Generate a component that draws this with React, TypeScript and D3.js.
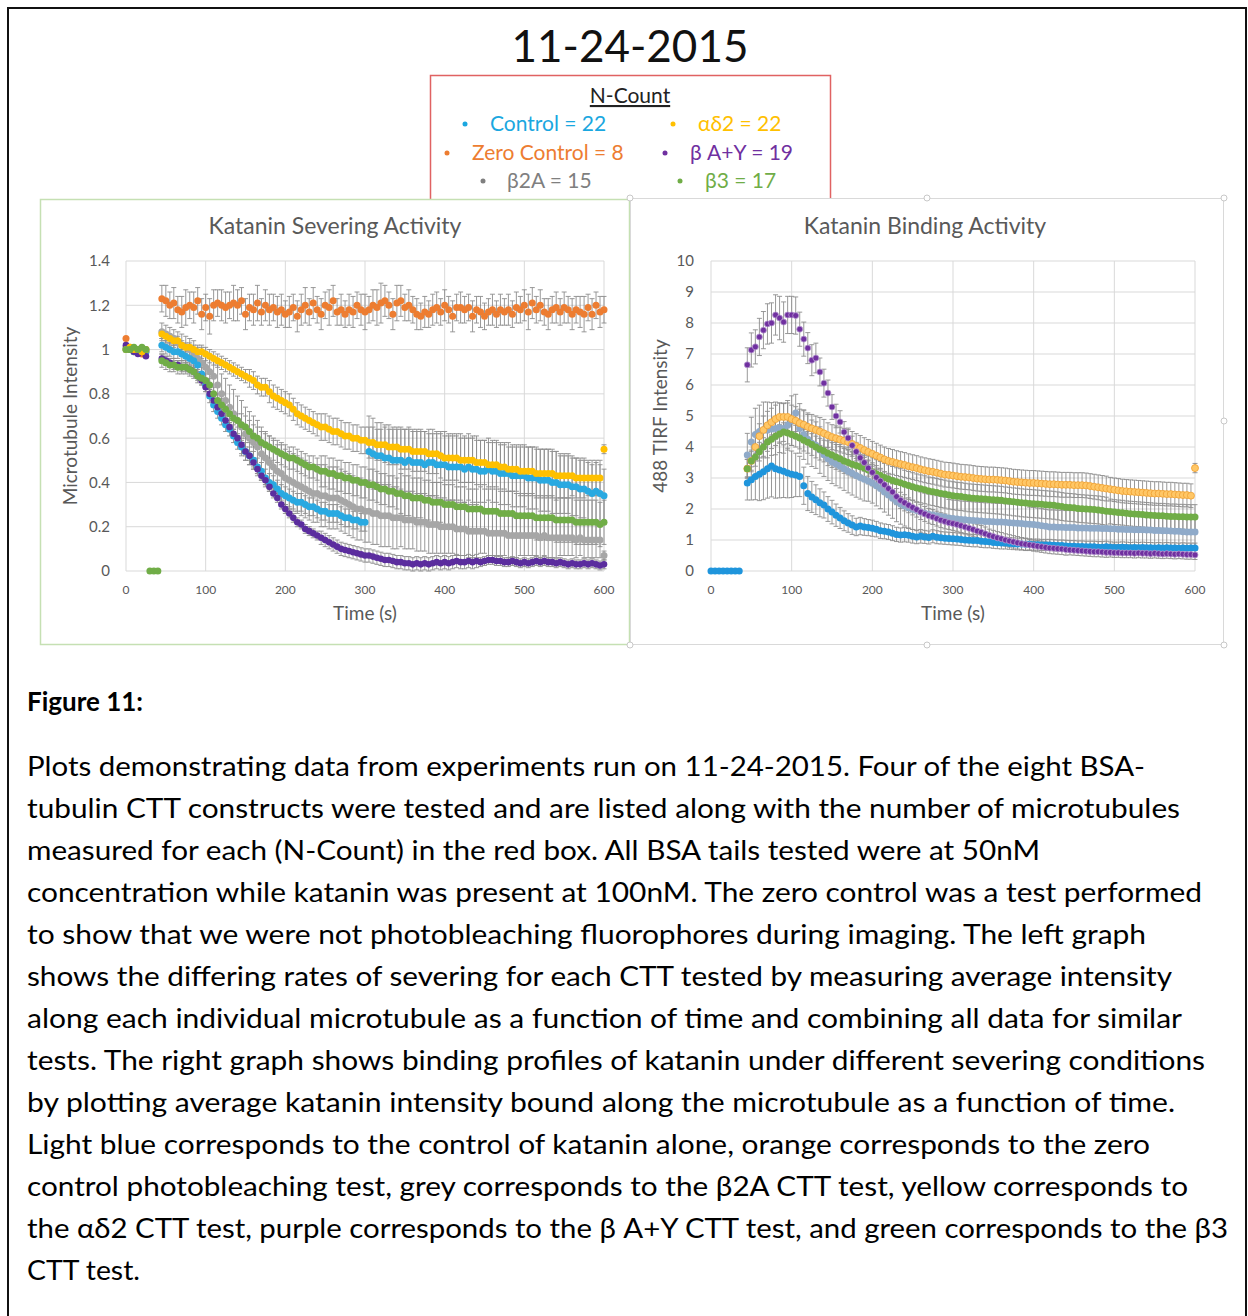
import React, { useEffect, useRef } from 'react';
import * as d3 from 'd3';

// sampling times (s) of the main recording
const TIME = [
  45, 50, 55, 60, 65, 70, 75, 80, 85, 90,
  95, 100, 105, 110, 115, 120, 125, 130, 135, 140,
  145, 150, 155, 160, 165, 170, 175, 180, 185, 190,
  195, 200, 205, 210, 215, 220, 225, 230, 235, 240,
  245, 250, 255, 260, 265, 270, 275, 280, 285, 290,
  295, 300, 305, 310, 315, 320, 325, 330, 335, 340,
  345, 350, 355, 360, 365, 370, 375, 380, 385, 390,
  395, 400, 405, 410, 415, 420, 425, 430, 435, 440,
  445, 450, 455, 460, 465, 470, 475, 480, 485, 490,
  495, 500, 505, 510, 515, 520, 525, 530, 535, 540,
  545, 550, 555, 560, 565, 570, 575, 580, 585, 590,
  595, 600,
];
const LEFT_PRE_TIME = [0, 5, 10, 15, 20, 25];
const LEFT_GAP_TIME = [30, 35, 40];
const RIGHT_PRE_TIME = [0, 5, 10, 15, 20, 25, 30, 35];

const X_TICKS = [0, 100, 200, 300, 400, 500, 600];
const LEFT_Y_TICKS = [0, 0.2, 0.4, 0.6, 0.8, 1, 1.2, 1.4];
const RIGHT_Y_TICKS = [0, 1, 2, 3, 4, 5, 6, 7, 8, 9, 10];

// ---- Katanin Severing Activity (normalised microtubule intensity) ----
const LEFT_PRE_ZERO = [1.05, 1.01, 0.99, 1.0, 0.98, 0.99];
const LEFT_PRE_CTRL = [1.0, 1.0, 0.99, 1.0, 1.0, 0.99];
const LEFT_PRE_B2A = [1.01, 1.0, 1.0, 0.99, 1.0, 1.0];
const LEFT_PRE_AD2 = [1.0, 1.01, 1.0, 1.0, 0.99, 1.0];
const LEFT_PRE_BAY = [1.02, 1.0, 0.99, 0.98, 0.99, 0.97];
const LEFT_PRE_B3 = [1.0, 1.0, 1.01, 1.0, 1.01, 1.0];
const LEFT_GAP_B3 = [0, 0, 0];

const LEFT_ZERO = [
  1.23, 1.22, 1.20, 1.21, 1.18, 1.17, 1.19, 1.20, 1.19, 1.22,
  1.16, 1.19, 1.15, 1.20, 1.21, 1.20, 1.19, 1.20, 1.21, 1.20,
  1.22, 1.16, 1.19, 1.18, 1.21, 1.17, 1.20, 1.18, 1.19, 1.17,
  1.18, 1.16, 1.17, 1.19, 1.15, 1.18, 1.20, 1.17, 1.21, 1.18,
  1.16, 1.20, 1.19, 1.22, 1.17, 1.18, 1.16, 1.18, 1.17, 1.20,
  1.18, 1.17, 1.18, 1.20, 1.19, 1.21, 1.22, 1.20, 1.16, 1.21,
  1.22, 1.19, 1.20, 1.18, 1.16, 1.15, 1.17, 1.16, 1.18, 1.19,
  1.17, 1.20, 1.18, 1.15, 1.19, 1.19, 1.18, 1.19, 1.15, 1.18,
  1.17, 1.15, 1.17, 1.18, 1.16, 1.18, 1.17, 1.18, 1.16, 1.19,
  1.18, 1.20, 1.17, 1.21, 1.18, 1.20, 1.17, 1.16, 1.18, 1.19,
  1.17, 1.19, 1.18, 1.16, 1.18, 1.17, 1.16, 1.19, 1.16, 1.20,
  1.17, 1.18,
];
const LEFT_ZERO_ERR = [
  0.06, 0.07, 0.06, 0.07, 0.06, 0.07, 0.08, 0.06, 0.07, 0.06,
  0.07, 0.06, 0.08, 0.07, 0.06, 0.07, 0.07, 0.06, 0.08, 0.07,
  0.06, 0.07, 0.06, 0.07, 0.08, 0.06, 0.07, 0.07, 0.06, 0.07,
  0.07, 0.06, 0.07, 0.06, 0.07, 0.07, 0.08, 0.06, 0.07, 0.06,
  0.07, 0.06, 0.08, 0.07, 0.06, 0.07, 0.06, 0.07, 0.07, 0.06,
  0.07, 0.08, 0.06, 0.07, 0.08, 0.09, 0.07, 0.06, 0.07, 0.08,
  0.07, 0.06, 0.07, 0.06, 0.07, 0.06, 0.07, 0.06, 0.07, 0.07,
  0.06, 0.07, 0.06, 0.07, 0.06, 0.07, 0.06, 0.06, 0.07, 0.06,
  0.07, 0.06, 0.06, 0.07, 0.06, 0.07, 0.06, 0.07, 0.06, 0.07,
  0.06, 0.07, 0.08, 0.07, 0.06, 0.07, 0.06, 0.07, 0.06, 0.07,
  0.06, 0.07, 0.06, 0.07, 0.06, 0.07, 0.08, 0.06, 0.07, 0.06,
  0.07, 0.06,
];

const LEFT_AD2 = [
  1.07, 1.06, 1.05, 1.04, 1.04, 1.02, 1.01, 1.01, 1.00, 0.99,
  0.99, 0.98, 0.97, 0.96, 0.95, 0.94, 0.93, 0.92, 0.91, 0.90,
  0.89, 0.88, 0.87, 0.86, 0.84, 0.83, 0.83, 0.81, 0.79, 0.78,
  0.77, 0.76, 0.75, 0.73, 0.71, 0.70, 0.69, 0.68, 0.67, 0.66,
  0.65, 0.65, 0.64, 0.63, 0.63, 0.62, 0.61, 0.61, 0.60, 0.60,
  0.59, 0.59, 0.58, 0.58, 0.57, 0.57, 0.57, 0.56, 0.56, 0.56,
  0.55, 0.55, 0.55, 0.54, 0.54, 0.54, 0.54, 0.53, 0.53, 0.53,
  0.52, 0.51, 0.51, 0.51, 0.51, 0.50, 0.50, 0.50, 0.50, 0.49,
  0.49, 0.49, 0.48, 0.48, 0.48, 0.47, 0.47, 0.46, 0.46, 0.46,
  0.45, 0.45, 0.45, 0.45, 0.44, 0.44, 0.44, 0.44, 0.44, 0.43,
  0.43, 0.43, 0.43, 0.43, 0.42, 0.42, 0.42, 0.42, 0.42, 0.42,
  0.42, 0.55,
];
const LEFT_AD2_ERR = [
  0.02, 0.02, 0.02, 0.02, 0.02, 0.02, 0.02, 0.02, 0.02, 0.02,
  0.03, 0.03, 0.03, 0.03, 0.03, 0.03, 0.03, 0.03, 0.03, 0.03,
  0.03, 0.03, 0.04, 0.04, 0.04, 0.04, 0.04, 0.05, 0.05, 0.05,
  0.05, 0.05, 0.05, 0.05, 0.05, 0.05, 0.05, 0.05, 0.05, 0.05,
  0.06, 0.06, 0.06, 0.06, 0.06, 0.06, 0.06, 0.06, 0.06, 0.06,
  0.06, 0.06, 0.07, 0.07, 0.07, 0.07, 0.08, 0.08, 0.08, 0.08,
  0.09, 0.09, 0.09, 0.09, 0.09, 0.09, 0.09, 0.09, 0.09, 0.09,
  0.10, 0.10, 0.10, 0.10, 0.10, 0.10, 0.10, 0.10, 0.10, 0.10,
  0.10, 0.10, 0.10, 0.10, 0.10, 0.10, 0.10, 0.10, 0.10, 0.10,
  0.11, 0.11, 0.11, 0.11, 0.11, 0.11, 0.11, 0.11, 0.11, 0.11,
  0.10, 0.10, 0.10, 0.09, 0.09, 0.09, 0.09, 0.08, 0.08, 0.08,
  0.08, 0.02,
];

const LEFT_CTRL = [
  1.02, 1.01, 1.00, 0.99, 0.99, 0.98, 0.97, 0.96, 0.95, 0.93,
  0.89, 0.84, 0.79, 0.75, 0.72, 0.69, 0.66, 0.64, 0.61, 0.58,
  0.56, 0.54, 0.52, 0.50, 0.47, 0.45, 0.42, 0.40, 0.39, 0.37,
  0.35, 0.34, 0.33, 0.32, 0.31, 0.31, 0.30, 0.29, 0.29, 0.28,
  0.27, 0.27, 0.26, 0.26, 0.26, 0.25, 0.24, 0.24, 0.23, 0.23,
  0.22, 0.22, 0.54, 0.53, 0.52, 0.52, 0.51, 0.51, 0.50, 0.50,
  0.50, 0.49, 0.50, 0.49, 0.49, 0.49, 0.48, 0.49, 0.49, 0.48,
  0.48, 0.48, 0.47, 0.47, 0.47, 0.47, 0.46, 0.47, 0.46, 0.46,
  0.45, 0.45, 0.46, 0.45, 0.45, 0.44, 0.44, 0.44, 0.43, 0.43,
  0.43, 0.43, 0.42, 0.42, 0.42, 0.41, 0.41, 0.41, 0.40, 0.40,
  0.39, 0.39, 0.39, 0.38, 0.38, 0.37, 0.37, 0.36, 0.35, 0.36,
  0.35, 0.34,
];
const LEFT_CTRL_ERR = [
  0.03, 0.03, 0.03, 0.03, 0.03, 0.03, 0.03, 0.03, 0.03, 0.03,
  0.03, 0.03, 0.03, 0.03, 0.03, 0.03, 0.03, 0.03, 0.03, 0.03,
  0.04, 0.04, 0.04, 0.04, 0.04, 0.04, 0.04, 0.04, 0.04, 0.04,
  0.04, 0.04, 0.04, 0.04, 0.04, 0.04, 0.04, 0.04, 0.04, 0.04,
  0.04, 0.04, 0.04, 0.04, 0.04, 0.04, 0.04, 0.04, 0.04, 0.04,
  0.04, 0.04, 0.16, 0.16, 0.15, 0.15, 0.15, 0.15, 0.15, 0.15,
  0.15, 0.15, 0.15, 0.15, 0.15, 0.15, 0.15, 0.15, 0.15, 0.15,
  0.15, 0.15, 0.15, 0.15, 0.15, 0.15, 0.15, 0.15, 0.15, 0.15,
  0.14, 0.14, 0.14, 0.14, 0.14, 0.14, 0.14, 0.14, 0.14, 0.14,
  0.14, 0.14, 0.14, 0.14, 0.14, 0.14, 0.14, 0.14, 0.14, 0.14,
  0.13, 0.13, 0.13, 0.13, 0.13, 0.13, 0.13, 0.13, 0.13, 0.13,
  0.13, 0.12,
];

const LEFT_B2A = [
  1.08, 1.07, 1.06, 1.05, 1.03, 1.02, 1.01, 1.00, 0.98, 0.96,
  0.94, 0.92, 0.90, 0.88, 0.84, 0.80, 0.77, 0.74, 0.71, 0.68,
  0.65, 0.62, 0.60, 0.58, 0.56, 0.53, 0.51, 0.49, 0.47, 0.45,
  0.44, 0.42, 0.41, 0.40, 0.39, 0.38, 0.37, 0.36, 0.35, 0.35,
  0.34, 0.34, 0.33, 0.33, 0.33, 0.32, 0.31, 0.30, 0.29, 0.28,
  0.28, 0.27, 0.27, 0.26, 0.26, 0.25, 0.25, 0.25, 0.24, 0.24,
  0.24, 0.23, 0.23, 0.23, 0.22, 0.22, 0.22, 0.21, 0.21, 0.21,
  0.20, 0.20, 0.20, 0.20, 0.19, 0.19, 0.19, 0.18, 0.18, 0.18,
  0.18, 0.18, 0.17, 0.17, 0.17, 0.17, 0.17, 0.16, 0.16, 0.16,
  0.16, 0.16, 0.16, 0.16, 0.16, 0.15, 0.16, 0.15, 0.15, 0.15,
  0.15, 0.15, 0.15, 0.15, 0.14, 0.15, 0.14, 0.14, 0.14, 0.14,
  0.14, 0.07,
];
const LEFT_B2A_ERR = [
  0.04, 0.04, 0.04, 0.04, 0.05, 0.05, 0.05, 0.05, 0.06, 0.06,
  0.07, 0.07, 0.08, 0.08, 0.09, 0.09, 0.10, 0.10, 0.11, 0.11,
  0.12, 0.12, 0.12, 0.12, 0.12, 0.12, 0.12, 0.12, 0.12, 0.12,
  0.13, 0.13, 0.13, 0.13, 0.13, 0.13, 0.13, 0.13, 0.13, 0.13,
  0.14, 0.14, 0.14, 0.14, 0.14, 0.14, 0.14, 0.14, 0.14, 0.14,
  0.14, 0.14, 0.14, 0.14, 0.14, 0.14, 0.14, 0.14, 0.14, 0.14,
  0.13, 0.13, 0.13, 0.13, 0.13, 0.13, 0.13, 0.13, 0.13, 0.13,
  0.12, 0.12, 0.12, 0.12, 0.12, 0.12, 0.12, 0.12, 0.12, 0.12,
  0.10, 0.10, 0.10, 0.10, 0.10, 0.10, 0.10, 0.10, 0.10, 0.10,
  0.09, 0.09, 0.09, 0.09, 0.09, 0.09, 0.09, 0.09, 0.09, 0.09,
  0.08, 0.08, 0.08, 0.08, 0.08, 0.08, 0.08, 0.08, 0.08, 0.08,
  0.08, 0.02,
];

const LEFT_B3 = [
  0.95, 0.94, 0.93, 0.93, 0.92, 0.92, 0.92, 0.91, 0.90, 0.88,
  0.87, 0.86, 0.84, 0.80, 0.77, 0.75, 0.73, 0.71, 0.69, 0.68,
  0.66, 0.65, 0.63, 0.61, 0.60, 0.58, 0.57, 0.56, 0.55, 0.54,
  0.53, 0.52, 0.51, 0.51, 0.50, 0.49, 0.48, 0.47, 0.47, 0.46,
  0.45, 0.45, 0.44, 0.44, 0.43, 0.43, 0.42, 0.42, 0.41, 0.41,
  0.40, 0.40, 0.39, 0.39, 0.38, 0.37, 0.37, 0.36, 0.36, 0.35,
  0.35, 0.34, 0.34, 0.33, 0.33, 0.33, 0.32, 0.32, 0.31, 0.31,
  0.31, 0.30, 0.30, 0.30, 0.29, 0.29, 0.29, 0.28, 0.28, 0.28,
  0.28, 0.27, 0.27, 0.27, 0.27, 0.26, 0.26, 0.26, 0.26, 0.25,
  0.25, 0.25, 0.25, 0.25, 0.24, 0.24, 0.24, 0.24, 0.24, 0.23,
  0.23, 0.23, 0.23, 0.23, 0.22, 0.22, 0.22, 0.22, 0.22, 0.22,
  0.21, 0.22,
];
const LEFT_B3_ERR = [
  0.03, 0.03, 0.03, 0.03, 0.03, 0.03, 0.03, 0.03, 0.03, 0.03,
  0.03, 0.03, 0.03, 0.03, 0.03, 0.03, 0.03, 0.03, 0.03, 0.03,
  0.05, 0.05, 0.05, 0.05, 0.05, 0.05, 0.05, 0.05, 0.05, 0.05,
  0.05, 0.05, 0.05, 0.05, 0.05, 0.05, 0.05, 0.05, 0.05, 0.05,
  0.07, 0.07, 0.07, 0.07, 0.07, 0.07, 0.07, 0.07, 0.07, 0.07,
  0.07, 0.07, 0.07, 0.07, 0.07, 0.07, 0.07, 0.07, 0.07, 0.07,
  0.09, 0.09, 0.09, 0.09, 0.09, 0.09, 0.09, 0.09, 0.09, 0.09,
  0.09, 0.09, 0.09, 0.09, 0.09, 0.09, 0.09, 0.09, 0.09, 0.09,
  0.10, 0.10, 0.10, 0.10, 0.10, 0.10, 0.10, 0.10, 0.10, 0.10,
  0.10, 0.10, 0.10, 0.10, 0.10, 0.10, 0.10, 0.10, 0.10, 0.10,
  0.10, 0.10, 0.10, 0.10, 0.10, 0.10, 0.10, 0.10, 0.10, 0.10,
  0.10, 0.10,
];

const LEFT_BAY = [
  0.96, 0.95, 0.94, 0.93, 0.93, 0.92, 0.92, 0.91, 0.90, 0.88,
  0.86, 0.83, 0.80, 0.77, 0.74, 0.71, 0.68, 0.65, 0.62, 0.60,
  0.57, 0.54, 0.52, 0.49, 0.46, 0.43, 0.41, 0.38, 0.35, 0.33,
  0.30, 0.28, 0.26, 0.24, 0.22, 0.21, 0.19, 0.18, 0.17, 0.16,
  0.15, 0.14, 0.13, 0.12, 0.11, 0.10, 0.095, 0.09, 0.085, 0.08,
  0.075, 0.07, 0.07, 0.065, 0.06, 0.055, 0.05, 0.05, 0.045, 0.04,
  0.04, 0.035, 0.035, 0.03, 0.035, 0.03, 0.035, 0.03, 0.035, 0.04,
  0.035, 0.04, 0.035, 0.04, 0.045, 0.04, 0.04, 0.045, 0.04, 0.045,
  0.04, 0.045, 0.05, 0.05, 0.045, 0.045, 0.04, 0.04, 0.045, 0.04,
  0.035, 0.04, 0.035, 0.04, 0.045, 0.04, 0.045, 0.04, 0.04, 0.035,
  0.04, 0.035, 0.03, 0.035, 0.03, 0.03, 0.035, 0.03, 0.035, 0.03,
  0.025, 0.03,
];
const LEFT_BAY_ERR = [
  0.02, 0.02, 0.02, 0.02, 0.02, 0.02, 0.02, 0.02, 0.02, 0.02,
  0.02, 0.02, 0.02, 0.02, 0.02, 0.02, 0.02, 0.02, 0.02, 0.02,
  0.02, 0.02, 0.02, 0.02, 0.02, 0.02, 0.02, 0.02, 0.02, 0.02,
  0.02, 0.02, 0.02, 0.02, 0.02, 0.02, 0.02, 0.02, 0.02, 0.02,
  0.03, 0.03, 0.03, 0.03, 0.03, 0.03, 0.03, 0.03, 0.03, 0.03,
  0.03, 0.03, 0.03, 0.03, 0.03, 0.03, 0.03, 0.03, 0.03, 0.03,
  0.03, 0.03, 0.03, 0.03, 0.03, 0.03, 0.03, 0.03, 0.03, 0.03,
  0.03, 0.03, 0.03, 0.03, 0.03, 0.03, 0.03, 0.03, 0.03, 0.03,
  0.02, 0.02, 0.02, 0.02, 0.02, 0.02, 0.02, 0.02, 0.02, 0.02,
  0.02, 0.02, 0.02, 0.02, 0.02, 0.02, 0.02, 0.02, 0.02, 0.02,
  0.02, 0.02, 0.02, 0.02, 0.02, 0.02, 0.02, 0.02, 0.02, 0.02,
  0.02, 0.02,
];

// ---- Katanin Binding Activity (488 TIRF intensity) ----
const RIGHT_PRE_CTRL = [0, 0, 0, 0, 0, 0, 0, 0];

const RIGHT_CTRL = [
  2.84, 2.94, 3.05, 3.12, 3.20, 3.30, 3.39, 3.30, 3.26, 3.22,
  3.16, 3.12, 3.10, 3.05, 2.75, 2.50, 2.39, 2.30, 2.20, 2.13,
  2.00, 1.90, 1.80, 1.71, 1.62, 1.55, 1.48, 1.42, 1.45, 1.42,
  1.40, 1.38, 1.35, 1.30, 1.28, 1.26, 1.22, 1.18, 1.16, 1.17,
  1.15, 1.12, 1.10, 1.12, 1.10, 1.08, 1.12, 1.09, 1.07, 1.06,
  1.05, 1.04, 1.03, 1.02, 1.00, 0.99, 0.98, 0.98, 0.96, 0.95,
  0.94, 0.92, 0.91, 0.90, 0.90, 0.89, 0.88, 0.87, 0.87, 0.86,
  0.86, 0.85, 0.85, 0.84, 0.84, 0.84, 0.83, 0.82, 0.82, 0.81,
  0.80, 0.80, 0.79, 0.79, 0.78, 0.78, 0.78, 0.77, 0.77, 0.78,
  0.77, 0.76, 0.76, 0.77, 0.76, 0.75, 0.76, 0.75, 0.76, 0.75,
  0.75, 0.74, 0.75, 0.74, 0.75, 0.74, 0.74, 0.73, 0.74, 0.73,
  0.74, 0.74,
];
const RIGHT_CTRL_ERR = [
  0.55, 0.65, 0.75, 0.85, 0.90, 0.95, 1.00, 0.95, 0.90, 0.85,
  0.80, 0.75, 0.70, 0.65, 0.60, 0.55, 0.50, 0.48, 0.45, 0.42,
  0.40, 0.38, 0.36, 0.34, 0.32, 0.30, 0.30, 0.28, 0.28, 0.27,
  0.26, 0.26, 0.25, 0.25, 0.24, 0.24, 0.24, 0.23, 0.23, 0.23,
  0.22, 0.22, 0.22, 0.22, 0.21, 0.21, 0.21, 0.21, 0.20, 0.20,
  0.20, 0.20, 0.20, 0.20, 0.20, 0.20, 0.20, 0.20, 0.20, 0.20,
  0.19, 0.19, 0.19, 0.19, 0.19, 0.19, 0.19, 0.19, 0.19, 0.19,
  0.18, 0.18, 0.18, 0.18, 0.18, 0.18, 0.18, 0.18, 0.18, 0.18,
  0.18, 0.18, 0.18, 0.18, 0.18, 0.18, 0.18, 0.18, 0.18, 0.18,
  0.17, 0.17, 0.17, 0.17, 0.17, 0.17, 0.17, 0.17, 0.17, 0.17,
  0.17, 0.17, 0.17, 0.17, 0.17, 0.17, 0.17, 0.17, 0.17, 0.17,
  0.16, 0.16,
];

const RIGHT_B2A = [
  3.74, 4.16, 4.40, 4.50, 4.55, 4.55, 4.58, 4.60, 4.62, 4.60,
  4.70, 4.85, 5.10, 4.60, 4.40, 4.25, 4.12, 4.06, 3.90, 3.75,
  3.62, 3.52, 3.45, 3.38, 3.30, 3.22, 3.15, 3.08, 3.02, 2.96,
  2.90, 2.84, 2.75, 2.66, 2.55, 2.45, 2.35, 2.24, 2.16, 2.10,
  2.04, 1.99, 1.95, 1.90, 1.86, 1.83, 1.81, 1.78, 1.76, 1.73,
  1.71, 1.69, 1.68, 1.66, 1.65, 1.64, 1.63, 1.62, 1.61, 1.60,
  1.60, 1.59, 1.58, 1.58, 1.57, 1.56, 1.55, 1.54, 1.53, 1.52,
  1.51, 1.50, 1.48, 1.46, 1.44, 1.42, 1.42, 1.41, 1.41, 1.40,
  1.40, 1.40, 1.39, 1.39, 1.39, 1.38, 1.38, 1.38, 1.37, 1.37,
  1.36, 1.36, 1.35, 1.35, 1.34, 1.34, 1.33, 1.33, 1.33, 1.32,
  1.32, 1.31, 1.31, 1.30, 1.30, 1.29, 1.28, 1.28, 1.27, 1.26,
  1.26, 1.26,
];
const RIGHT_B2A_ERR = [
  0.70, 0.80, 0.85, 0.85, 0.90, 0.90, 0.85, 0.85, 0.80, 0.80,
  0.80, 0.80, 0.60, 0.80, 0.80, 0.80, 0.75, 0.75, 0.75, 0.70,
  0.70, 0.70, 0.70, 0.70, 0.70, 0.70, 0.70, 0.70, 0.70, 0.70,
  0.65, 0.65, 0.65, 0.65, 0.65, 0.65, 0.65, 0.65, 0.65, 0.65,
  0.65, 0.65, 0.65, 0.65, 0.65, 0.65, 0.65, 0.65, 0.65, 0.65,
  0.60, 0.60, 0.60, 0.60, 0.60, 0.60, 0.60, 0.60, 0.60, 0.60,
  0.60, 0.60, 0.60, 0.60, 0.60, 0.60, 0.60, 0.60, 0.60, 0.60,
  0.55, 0.55, 0.55, 0.55, 0.55, 0.55, 0.55, 0.55, 0.55, 0.55,
  0.55, 0.55, 0.55, 0.55, 0.55, 0.55, 0.55, 0.55, 0.55, 0.55,
  0.50, 0.50, 0.50, 0.50, 0.50, 0.50, 0.50, 0.50, 0.50, 0.50,
  0.50, 0.50, 0.50, 0.50, 0.50, 0.50, 0.50, 0.50, 0.50, 0.50,
  0.50, 0.50,
];

const RIGHT_AD2 = [
  3.30, 3.55, 4.00, 4.35, 4.55, 4.70, 4.80, 4.90, 4.97, 4.97,
  4.97, 4.90, 4.85, 4.77, 4.72, 4.65, 4.60, 4.55, 4.50, 4.44,
  4.38, 4.32, 4.28, 4.24, 4.20, 4.16, 4.10, 4.03, 3.97, 3.90,
  3.84, 3.78, 3.72, 3.66, 3.60, 3.55, 3.52, 3.48, 3.45, 3.42,
  3.38, 3.35, 3.32, 3.28, 3.25, 3.22, 3.20, 3.17, 3.14, 3.11,
  3.10, 3.08, 3.06, 3.04, 3.03, 3.02, 3.00, 2.98, 2.97, 2.96,
  2.95, 2.95, 2.94, 2.93, 2.92, 2.90, 2.88, 2.87, 2.86, 2.85,
  2.84, 2.84, 2.83, 2.82, 2.81, 2.80, 2.80, 2.79, 2.78, 2.78,
  2.78, 2.77, 2.77, 2.77, 2.76, 2.74, 2.72, 2.70, 2.68, 2.66,
  2.64, 2.62, 2.60, 2.58, 2.57, 2.56, 2.55, 2.54, 2.53, 2.52,
  2.51, 2.50, 2.50, 2.49, 2.48, 2.48, 2.47, 2.46, 2.45, 2.45,
  2.43, 3.32,
];
const RIGHT_AD2_ERR = [
  0.30, 0.35, 0.40, 0.40, 0.45, 0.45, 0.45, 0.45, 0.45, 0.45,
  0.45, 0.45, 0.45, 0.45, 0.45, 0.45, 0.45, 0.45, 0.45, 0.45,
  0.40, 0.40, 0.40, 0.40, 0.40, 0.40, 0.40, 0.40, 0.40, 0.40,
  0.40, 0.40, 0.40, 0.40, 0.40, 0.40, 0.40, 0.40, 0.40, 0.40,
  0.40, 0.40, 0.40, 0.40, 0.40, 0.40, 0.40, 0.40, 0.40, 0.40,
  0.40, 0.40, 0.40, 0.40, 0.40, 0.40, 0.40, 0.40, 0.40, 0.40,
  0.40, 0.40, 0.40, 0.40, 0.40, 0.40, 0.40, 0.40, 0.40, 0.40,
  0.40, 0.40, 0.40, 0.40, 0.40, 0.40, 0.40, 0.40, 0.40, 0.40,
  0.40, 0.40, 0.40, 0.40, 0.40, 0.40, 0.40, 0.40, 0.40, 0.40,
  0.38, 0.38, 0.38, 0.38, 0.38, 0.38, 0.38, 0.38, 0.38, 0.38,
  0.38, 0.38, 0.38, 0.38, 0.38, 0.38, 0.38, 0.38, 0.38, 0.38,
  0.38, 0.15,
];

const RIGHT_B3 = [
  3.30, 3.55, 3.68, 3.85, 4.00, 4.16, 4.25, 4.35, 4.42, 4.48,
  4.45, 4.40, 4.35, 4.29, 4.22, 4.15, 4.08, 4.00, 3.93, 3.87,
  3.80, 3.74, 3.68, 3.62, 3.55, 3.50, 3.44, 3.40, 3.36, 3.32,
  3.26, 3.20, 3.14, 3.08, 3.02, 2.97, 2.92, 2.88, 2.85, 2.80,
  2.76, 2.72, 2.68, 2.65, 2.62, 2.58, 2.56, 2.53, 2.50, 2.48,
  2.45, 2.43, 2.41, 2.40, 2.38, 2.36, 2.35, 2.34, 2.33, 2.32,
  2.31, 2.30, 2.29, 2.28, 2.26, 2.25, 2.23, 2.22, 2.20, 2.19,
  2.18, 2.17, 2.16, 2.15, 2.14, 2.13, 2.12, 2.10, 2.08, 2.06,
  2.05, 2.04, 2.02, 2.01, 2.00, 1.99, 1.98, 1.97, 1.95, 1.93,
  1.92, 1.90, 1.89, 1.88, 1.86, 1.85, 1.84, 1.83, 1.82, 1.81,
  1.80, 1.79, 1.78, 1.78, 1.77, 1.76, 1.76, 1.75, 1.75, 1.74,
  1.74, 1.74,
];
const RIGHT_B3_ERR = [
  0.30, 0.30, 0.30, 0.30, 0.30, 0.30, 0.30, 0.30, 0.30, 0.30,
  0.35, 0.35, 0.35, 0.35, 0.35, 0.35, 0.35, 0.35, 0.35, 0.35,
  0.40, 0.40, 0.40, 0.40, 0.40, 0.40, 0.40, 0.40, 0.40, 0.40,
  0.45, 0.45, 0.45, 0.45, 0.45, 0.45, 0.45, 0.45, 0.45, 0.45,
  0.45, 0.45, 0.45, 0.45, 0.45, 0.45, 0.45, 0.45, 0.45, 0.45,
  0.45, 0.45, 0.45, 0.45, 0.45, 0.45, 0.45, 0.45, 0.45, 0.45,
  0.45, 0.45, 0.45, 0.45, 0.45, 0.45, 0.45, 0.45, 0.45, 0.45,
  0.45, 0.45, 0.45, 0.45, 0.45, 0.45, 0.45, 0.45, 0.45, 0.45,
  0.45, 0.45, 0.45, 0.45, 0.45, 0.45, 0.45, 0.45, 0.45, 0.45,
  0.40, 0.40, 0.40, 0.40, 0.40, 0.40, 0.40, 0.40, 0.40, 0.40,
  0.40, 0.40, 0.40, 0.40, 0.40, 0.40, 0.40, 0.40, 0.40, 0.40,
  0.40, 0.40,
];

const RIGHT_BAY = [
  6.65, 7.13, 7.23, 7.55, 7.77, 7.97, 8.00, 8.26, 8.16, 8.03,
  8.26, 8.26, 8.24, 7.80, 7.48, 7.19, 6.80, 6.87, 6.42, 6.06,
  5.74, 5.29, 5.00, 4.81, 4.48, 4.29, 4.05, 3.85, 3.65, 3.50,
  3.32, 3.18, 3.02, 2.90, 2.78, 2.66, 2.55, 2.40, 2.28, 2.20,
  2.12, 2.05, 1.98, 1.90, 1.84, 1.78, 1.74, 1.69, 1.64, 1.60,
  1.56, 1.53, 1.50, 1.46, 1.42, 1.38, 1.34, 1.29, 1.25, 1.20,
  1.15, 1.11, 1.07, 1.04, 1.00, 0.97, 0.94, 0.91, 0.88, 0.86,
  0.84, 0.82, 0.80, 0.78, 0.76, 0.74, 0.73, 0.72, 0.71, 0.69,
  0.68, 0.67, 0.66, 0.65, 0.64, 0.63, 0.62, 0.62, 0.61, 0.60,
  0.60, 0.59, 0.59, 0.58, 0.58, 0.58, 0.57, 0.58, 0.57, 0.57,
  0.56, 0.57, 0.56, 0.55, 0.56, 0.55, 0.54, 0.55, 0.54, 0.53,
  0.53, 0.52,
];
const RIGHT_BAY_ERR = [
  0.55, 0.55, 0.55, 0.60, 0.60, 0.65, 0.65, 0.65, 0.70, 0.65,
  0.60, 0.60, 0.60, 0.55, 0.55, 0.50, 0.50, 0.48, 0.45, 0.45,
  0.42, 0.40, 0.38, 0.36, 0.34, 0.32, 0.30, 0.30, 0.28, 0.28,
  0.26, 0.26, 0.26, 0.26, 0.26, 0.26, 0.26, 0.26, 0.26, 0.26,
  0.24, 0.24, 0.24, 0.24, 0.24, 0.24, 0.24, 0.24, 0.24, 0.24,
  0.22, 0.22, 0.22, 0.22, 0.22, 0.22, 0.22, 0.22, 0.22, 0.22,
  0.20, 0.20, 0.20, 0.20, 0.20, 0.20, 0.20, 0.20, 0.20, 0.20,
  0.18, 0.18, 0.18, 0.18, 0.18, 0.18, 0.18, 0.18, 0.18, 0.18,
  0.16, 0.16, 0.16, 0.16, 0.16, 0.16, 0.16, 0.16, 0.16, 0.16,
  0.15, 0.15, 0.15, 0.15, 0.15, 0.15, 0.15, 0.15, 0.15, 0.15,
  0.15, 0.15, 0.15, 0.15, 0.15, 0.15, 0.15, 0.15, 0.15, 0.15,
  0.15, 0.15,
];

// legend (N-Count box)
const LEGEND_LABELS = [
  'Control = 22', 'αδ2 = 22',
  'Zero Control = 8', 'β A+Y = 19',
  'β2A = 15', 'β3 = 17',
];

const CAPTION_LINES = [
  'Plots demonstrating data from experiments run on 11-24-2015. Four of the eight BSA-',
  'tubulin CTT constructs were tested and are listed along with the number of microtubules',
  'measured for each (N-Count) in the red box. All BSA tails tested were at 50nM',
  'concentration while katanin was present at 100nM. The zero control was a test performed',
  'to show that we were not photobleaching fluorophores during imaging. The left graph',
  'shows the differing rates of severing for each CTT tested by measuring average intensity',
  'along each individual microtubule as a function of time and combining all data for similar',
  'tests. The right graph shows binding profiles of katanin under different severing conditions',
  'by plotting average katanin intensity bound along the microtubule as a function of time.',
  'Light blue corresponds to the control of katanin alone, orange corresponds to the zero',
  'control photobleaching test, grey corresponds to the β2A CTT test, yellow corresponds to',
  'the αδ2 CTT test, purple corresponds to the β A+Y CTT test, and green corresponds to the β3',
  'CTT test.',
];
// right end (px) of each wrapped caption line in the reference layout
const CAPTION_RIGHT = [1145, 1180, 1040, 1202, 1146, 1172, 1182, 1205, 1175, 1150, 1188, 1228, 140];

const FONT = "Lato, 'Open Sans', 'DejaVu Sans', sans-serif";
const AXIS_GREY = '#595959';

function buildPoints(times, values, errs) {
  return values.map((v, i) => ({ t: times[i], v, e: errs ? errs[i] : 0 }));
}

function drawChart(svg, cfg) {
  const x = d3.scaleLinear().domain([0, 600]).range([cfg.left, cfg.right]);
  const y = d3.scaleLinear().domain([0, cfg.yMax]).range([cfg.bottom, cfg.top]);
  const g = svg.append('g');

  // gridlines
  g.append('g').selectAll('line').data(cfg.yTicks).enter().append('line')
    .attr('x1', cfg.left).attr('x2', cfg.right)
    .attr('y1', d => y(d)).attr('y2', d => y(d))
    .attr('stroke', '#d9d9d9').attr('stroke-width', 1);
  g.append('g').selectAll('line').data(X_TICKS).enter().append('line')
    .attr('x1', d => x(d)).attr('x2', d => x(d))
    .attr('y1', cfg.top).attr('y2', cfg.bottom)
    .attr('stroke', '#d9d9d9').attr('stroke-width', 1);

  // tick labels
  g.append('g').selectAll('text').data(cfg.yTicks).enter().append('text')
    .attr('x', cfg.left - cfg.yLabelGap).attr('y', d => y(d)).attr('dy', '0.36em')
    .attr('text-anchor', 'end').attr('font-size', 15).attr('fill', AXIS_GREY)
    .attr('font-family', FONT)
    .text(d => String(d));
  g.append('g').selectAll('text').data(X_TICKS).enter().append('text')
    .attr('x', d => x(d)).attr('y', cfg.bottom + 23)
    .attr('text-anchor', 'middle').attr('font-size', 12).attr('fill', AXIS_GREY)
    .attr('font-family', FONT)
    .text(d => String(d));

  // titles
  g.append('text').attr('x', cfg.titleX).attr('y', 234).attr('text-anchor', 'middle')
    .attr('font-size', 23).attr('fill', AXIS_GREY).attr('font-family', FONT).text(cfg.title);
  g.append('text').attr('x', (cfg.left + cfg.right) / 2).attr('y', 620).attr('text-anchor', 'middle')
    .attr('font-size', 19).attr('fill', AXIS_GREY).attr('font-family', FONT).text('Time (s)');
  g.append('text')
    .attr('transform', `translate(${cfg.yTitleX},${(cfg.top + cfg.bottom) / 2}) rotate(-90)`)
    .attr('text-anchor', 'middle').attr('dy', '0.35em')
    .attr('font-size', 19).attr('fill', AXIS_GREY).attr('font-family', FONT).text(cfg.yTitle);

  // error bars first
  const eb = g.append('g').attr('stroke', '#7a7a7a').attr('stroke-width', 0.9).attr('opacity', 0.85);
  cfg.series.forEach(s => {
    const pts = s.points.filter(p => p.e > 0);
    eb.append('g').selectAll('line.v').data(pts).enter().append('line')
      .attr('x1', p => x(p.t)).attr('x2', p => x(p.t))
      .attr('y1', p => y(p.v - p.e)).attr('y2', p => y(p.v + p.e));
    eb.append('g').selectAll('line.top').data(pts).enter().append('line')
      .attr('x1', p => x(p.t) - 2.5).attr('x2', p => x(p.t) + 2.5)
      .attr('y1', p => y(p.v + p.e)).attr('y2', p => y(p.v + p.e));
    eb.append('g').selectAll('line.bot').data(pts).enter().append('line')
      .attr('x1', p => x(p.t) - 2.5).attr('x2', p => x(p.t) + 2.5)
      .attr('y1', p => y(p.v - p.e)).attr('y2', p => y(p.v - p.e));
  });

  // markers
  cfg.series.forEach(s => {
    g.append('g').selectAll('circle').data(s.points).enter().append('circle')
      .attr('cx', p => x(p.t)).attr('cy', p => y(p.v)).attr('r', s.r)
      .attr('fill', s.fill)
      .attr('stroke', s.stroke || 'none').attr('stroke-width', s.stroke ? 0.8 : 0);
  });
}

const App = () => {
  const ref = useRef(null);

  useEffect(() => {
    const svg = d3.select(ref.current);
    svg.selectAll('*').remove();

    // page frame
    svg.append('rect').attr('x', 0).attr('y', 0).attr('width', 1248).attr('height', 1316).attr('fill', '#fff');
    svg.append('rect').attr('x', 8).attr('y', 8).attr('width', 1238).attr('height', 1330)
      .attr('fill', 'none').attr('stroke', '#111').attr('stroke-width', 2);

    // date title
    svg.append('text').attr('x', 630).attr('y', 62).attr('text-anchor', 'middle')
      .attr('font-size', 44).attr('font-family', FONT).attr('fill', '#111').text('11-24-2015');

    // N-Count box
    svg.append('rect').attr('x', 430.5).attr('y', 75.5).attr('width', 400).attr('height', 140)
      .attr('fill', '#fff').attr('stroke', '#e06262').attr('stroke-width', 1.5);
    svg.append('text').attr('x', 630).attr('y', 103).attr('text-anchor', 'middle')
      .attr('font-size', 21).attr('font-family', FONT).attr('fill', '#222')
      .attr('text-decoration', 'underline').text('N-Count');

    const legendColors = ['#1aa7e0', '#ffc000', '#ed7d31', '#7030a0', '#7f7f7f', '#70ad47'];
    const legendPos = [
      { bx: 465, tx: 490, y: 131 }, { bx: 673, tx: 698, y: 131 },
      { bx: 447, tx: 472, y: 160 }, { bx: 665, tx: 690, y: 160 },
      { bx: 483, tx: 507, y: 188 }, { bx: 680, tx: 705, y: 188 },
    ];
    LEGEND_LABELS.forEach((label, i) => {
      const p = legendPos[i];
      svg.append('circle').attr('cx', p.bx).attr('cy', p.y - 7).attr('r', 2.5).attr('fill', legendColors[i]);
      svg.append('text').attr('x', p.tx).attr('y', p.y).attr('font-size', 21)
        .attr('font-family', FONT).attr('fill', legendColors[i]).text(label);
    });

    // chart panels
    svg.append('rect').attr('x', 40.5).attr('y', 199.5).attr('width', 589).attr('height', 445)
      .attr('fill', '#fff').attr('stroke', '#c5e0b3').attr('stroke-width', 1.5);
    svg.append('rect').attr('x', 630.5).attr('y', 198.5).attr('width', 593).attr('height', 446)
      .attr('fill', '#fff').attr('stroke', '#d9d9d9').attr('stroke-width', 1);
    const handles = [[630, 198], [927, 198], [1224, 198], [1224, 421], [1224, 645], [927, 645], [630, 645]];
    svg.append('g').selectAll('circle').data(handles).enter().append('circle')
      .attr('cx', d => d[0]).attr('cy', d => d[1]).attr('r', 3)
      .attr('fill', '#fff').attr('stroke', '#c8c8c8').attr('stroke-width', 1);

    drawChart(svg, {
      left: 126, right: 604, top: 261, bottom: 571, yMax: 1.4, yTicks: LEFT_Y_TICKS,
      yLabelGap: 16, yTitleX: 70, titleX: 335,
      title: 'Katanin Severing Activity', yTitle: 'Microtubule Intensity',
      series: [
        { fill: '#a6a6a6', r: 3.5, points: [...buildPoints(LEFT_PRE_TIME, LEFT_PRE_B2A), ...buildPoints(TIME, LEFT_B2A, LEFT_B2A_ERR)] },
        { fill: '#ed7d31', r: 3.5, points: [...buildPoints(LEFT_PRE_TIME, LEFT_PRE_ZERO), ...buildPoints(TIME, LEFT_ZERO, LEFT_ZERO_ERR)] },
        { fill: '#29a9e1', r: 3.5, points: [...buildPoints(LEFT_PRE_TIME, LEFT_PRE_CTRL), ...buildPoints(TIME, LEFT_CTRL, LEFT_CTRL_ERR)] },
        { fill: '#5b2d9e', r: 3.3, points: [...buildPoints(LEFT_PRE_TIME, LEFT_PRE_BAY), ...buildPoints(TIME, LEFT_BAY, LEFT_BAY_ERR)] },
        { fill: '#ffc000', r: 3.5, points: [...buildPoints(LEFT_PRE_TIME, LEFT_PRE_AD2), ...buildPoints(TIME, LEFT_AD2, LEFT_AD2_ERR)] },
        { fill: '#70ad47', r: 3.5, points: [...buildPoints(LEFT_PRE_TIME, LEFT_PRE_B3), ...buildPoints(LEFT_GAP_TIME, LEFT_GAP_B3), ...buildPoints(TIME, LEFT_B3, LEFT_B3_ERR)] },
      ],
    });

    drawChart(svg, {
      left: 711, right: 1195, top: 261, bottom: 571, yMax: 10, yTicks: RIGHT_Y_TICKS,
      yLabelGap: 17, yTitleX: 660, titleX: 925,
      title: 'Katanin Binding Activity', yTitle: '488 TIRF Intensity',
      series: [
        { fill: '#8faac9', r: 3.5, points: buildPoints(TIME, RIGHT_B2A, RIGHT_B2A_ERR) },
        { fill: '#ffc766', stroke: '#f0a030', r: 3.5, points: buildPoints(TIME, RIGHT_AD2, RIGHT_AD2_ERR) },
        { fill: '#70ad47', r: 3.5, points: buildPoints(TIME, RIGHT_B3, RIGHT_B3_ERR) },
        { fill: '#1f95dc', r: 3.5, points: [...buildPoints(RIGHT_PRE_TIME, RIGHT_PRE_CTRL), ...buildPoints(TIME, RIGHT_CTRL, RIGHT_CTRL_ERR)] },
        { fill: '#7030a0', stroke: '#b79ad0', r: 3, points: buildPoints(TIME, RIGHT_BAY, RIGHT_BAY_ERR) },
      ],
    });

    // caption
    svg.append('text').attr('x', 27).attr('y', 711).attr('font-size', 26).attr('font-weight', 'bold')
      .attr('font-family', FONT).attr('fill', '#000').text('Figure 11:');
    svg.append('g').selectAll('text').data(CAPTION_LINES).enter().append('text')
      .attr('x', 27).attr('y', (d, i) => 776 + i * 42)
      .attr('font-size', 26).attr('font-family', FONT).attr('fill', '#000')
      .attr('textLength', (d, i) => CAPTION_RIGHT[i] - 27)
      .attr('lengthAdjust', 'spacingAndGlyphs')
      .text(d => d);
  }, []);

  return (
    <svg ref={ref} width={1248} height={1316}
      style={{ position: 'absolute', left: 0, top: 0, display: 'block' }} />
  );
};

export default App;
